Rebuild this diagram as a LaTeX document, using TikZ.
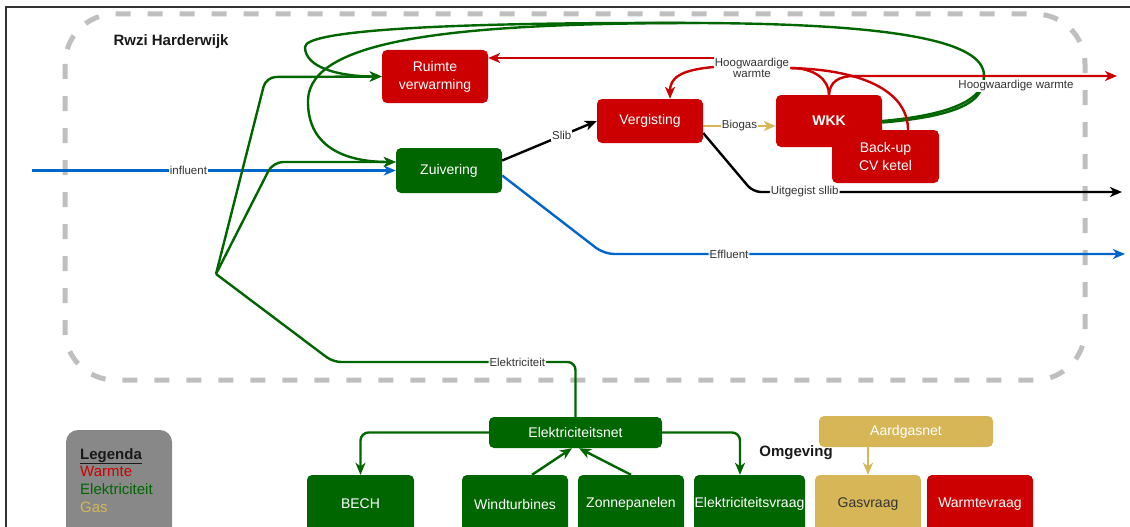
\documentclass[tikz,border=0pt]{standalone}
\usepackage{fontspec}
\setmainfont{Liberation Sans}
\usetikzlibrary{arrows.meta,calc}
\definecolor{cred}{HTML}{CC0000}
\definecolor{cgreen}{HTML}{006600}
\definecolor{cgold}{HTML}{D6B656}
\definecolor{cblue}{HTML}{0066CC}
\definecolor{cdash}{HTML}{BFBFBF}
\definecolor{clegend}{HTML}{888888}
\definecolor{cframe}{HTML}{333333}
\definecolor{ctext}{HTML}{333333}
\tikzset{
  box/.style={rounded corners=5pt, inner sep=0pt, text=white, align=center,
    font=\fontsize{14}{18}\selectfont},
  redbox/.style={box, fill=cred},
  greenbox/.style={box, fill=cgreen},
  goldbox/.style={box, fill=cgold},
  arr/.style={-{Stealth[length=12pt,width=10pt,inset=3.5pt]}},
  conn/.style={line width=2.4pt},
  heat/.style={conn, draw=cred},
  elec/.style={conn, draw=cgreen},
  gasl/.style={conn, draw=cgold},
  water/.style={conn, draw=cblue},
  sludge/.style={conn, draw=black},
  elabel/.style={fill=white, inner sep=1pt, text=ctext, font=\fontsize{11.5}{12.5}\selectfont, align=center},
  title/.style={font=\fontsize{15}{17}\selectfont\bfseries, text=black!90},
  legline/.style={anchor=base west, inner sep=0pt, font=\fontsize{15}{17}\selectfont}
}
\begin{document}
\begin{tikzpicture}[x=1pt,y=-1pt]
\useasboundingbox (0,0) rectangle (1130,527);
\clip (0,0) rectangle (1130,527);
% frame
\draw[line width=2pt, cframe] (5.5,527) -- (5.5,7.5) -- (1130,7.5);
% dashed boundary
\draw[cdash, line width=5pt, dash pattern=on 15pt off 17pt, rounded corners=50pt] (65,14) rectangle (1085,380);
\node[title, anchor=west] (rwzi) at (110,42) {Rwzi Harderwijk};
\node[title] (omg) at (796,453) {Omgeving};

% nodes
\node[redbox, minimum width=106pt, minimum height=53pt] (ruimte) at (435,76.5) {Ruimte\\verwarming};
\node[greenbox, minimum width=106pt, minimum height=45pt] (zuiv) at (449,170.5) {Zuivering};
\node[redbox, minimum width=106pt, minimum height=44pt] (verg) at (650,121) {Vergisting};
\node[redbox, minimum width=106pt, minimum height=52pt] (wkk) at (829,121) {};
\node[redbox, minimum width=107pt, minimum height=53pt] (backup) at (885.5,156.5) {Back-up\\CV ketel};
\node[font=\fontsize{14}{18}\selectfont\bfseries, text=white, inner sep=0pt] (wkktext) at (829,121) {WKK};

\node[greenbox, minimum width=173pt, minimum height=31pt] (net) at (575.5,432.5) {Elektriciteitsnet};
\node[goldbox, minimum width=174pt, minimum height=31pt] (gasnet) at (906,431.5) {Aardgasnet};
\node[greenbox, minimum width=107pt, minimum height=58pt] (bech) at (360.5,504) {BECH};
\node[greenbox, minimum width=106pt, minimum height=58pt] (wind) at (515,504) {Windturbines};
\node[greenbox, minimum width=106pt, minimum height=58pt] (zon) at (631,504) {Zonnepanelen};
\node[greenbox, minimum width=111pt, minimum height=58pt] (evraag) at (749.5,504) {Elektriciteitsvraag};
\node[goldbox, minimum width=106pt, minimum height=58pt, text=ctext] (gvraag) at (868,504) {Gasvraag};
\node[redbox, minimum width=106pt, minimum height=58pt] (wvraag) at (980,504) {Warmtevraag};

% legend
\node[fill=clegend, rounded corners=12pt, minimum width=106pt, minimum height=110pt, inner sep=0pt] (legend) at (119,485) {};
\node[legline, text=black!90] (lg1) at (80,459) {\bfseries\underline{Legenda}};
\node[legline, text=cred] (lg2) at (80,476.5) {Warmte};
\node[legline, text=cgreen] (lg3) at (80,494) {Elektriciteit};
\node[legline, text=cgold] (lg4) at (80,512) {Gas};

% coordinates
\coordinate (J) at (216,274);
\coordinate (inStart) at (32,170.5);
\coordinate (top) at (700,23);

% influent
\draw[water, arr] (inStart) -- node[elabel, pos=0.43] {influent} (zuiv.west);

% electricity from net to junction
\draw[elec, rounded corners=8pt] (net.north) |- node[elabel, pos=0.62] {Elektriciteit} (333,362) -- (J);
\draw[elec, arr, rounded corners=10pt] (J) -- (266,77) -- (ruimte.west);
\draw[elec, arr, rounded corners=10pt] (J) -- (273,162) -- ([yshift=8.5pt]zuiv.west);

% electricity from WKK
\draw[elec] (wkk.east) .. controls (950,115) and (985,100) .. (984,75)
  .. controls (983,42) and (900,24) .. (top);
\draw[elec] ([yshift=-1.5pt]wkk.east) .. controls (950,117) and (980,104) .. (982,85);
\draw[elec, arr] (top) .. controls (450,22) and (305,30) .. (305,47)
  .. controls (305,68) and (340,76.5) .. (ruimte.west);
\draw[elec, arr] (top) .. controls (450,23) and (310,40) .. (308,100)
  .. controls (307,150) and (350,162) .. ([yshift=8.5pt]zuiv.west);

% net edges
\draw[elec, arr, rounded corners=8pt] (net.west) -| (bech.north);
\draw[elec, arr, rounded corners=8pt] (net.east) -| ([xshift=-9.5pt]evraag.north);
\draw[elec, arr] ([xshift=17pt]wind.north) -- ([xshift=-3.5pt]net.south);
\draw[elec, arr] (zon.north) -- ([xshift=3.5pt]net.south);
\draw[gasl, arr] (gasnet.south -| gvraag.north) -- (gvraag.north);

% sludge
\draw[sludge, arr] ([yshift=10pt]zuiv.east) -- node[elabel, pos=0.63] {Slib} (verg.west);
\coordinate (slibEnd) at (1122,192);
\draw[sludge, arr, rounded corners=8pt] ([yshift=-12pt]verg.east) -- (753,192) -- node[elabel, pos=0.14] {Uitgegist sllib} (slibEnd);

% effluent
\coordinate (effEnd) at (1125,254);
\draw[water, arr, rounded corners=10pt] ([yshift=-5pt]zuiv.east) -- (604,254) -- node[elabel, pos=0.24] {Effluent} (effEnd);

% biogas
\draw[gasl, arr] ([yshift=-5pt]verg.east) -- node[elabel] {Biogas} ([yshift=-5pt]wkk.west);

% heat
\node[elabel] (hw) at (752,68) {Hoogwaardige\\[-2pt]warmte};
\draw[heat, arr] ([yshift=10pt]hw.west) -- ([yshift=10pt]hw.west -| ruimte.east);
\draw[heat, arr] ([yshift=1pt]hw.west) .. controls (680,70) and (670,78) .. ([xshift=20pt]verg.north);
\draw[heat] (hw.east) .. controls (815,68) and (829,80) .. (wkk.north);
\draw[heat] (hw.east) .. controls (870,70) and (908,95) .. ([xshift=22.5pt]backup.north);
\coordinate (heatEnd) at (1117,76);
\draw[heat, arr] (wkk.north) .. controls (830,82) and (838,76) .. (855,76) -- (heatEnd);
\node[elabel] (hw2) at (1016,86) {Hoogwaardige warmte};
\end{tikzpicture}
\end{document}
